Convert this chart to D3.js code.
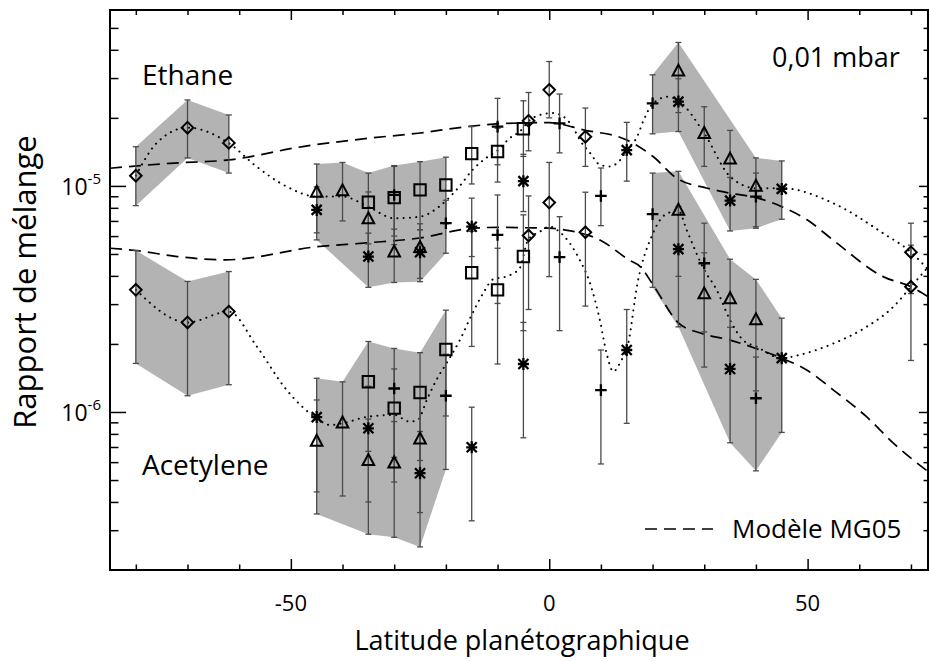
<!DOCTYPE html>
<html><head><meta charset="utf-8">
<script src="https://cdn.jsdelivr.net/npm/d3@7"></script>
<style>body{margin:0;background:#fff} svg{display:block} text{font-family:"Open Sans",sans-serif;fill:#000}</style>
</head><body><svg id="c" width="929" height="661"></svg>
<script>
// ---------------- DATA ----------------
const xDomain = [-85, 73.3];
const yDomain = [2e-7, 6e-5];
const xMajorTicks = [-50, 0, 50];
const xTickLabels = ["-50", "0", "50"];
const xMinorTicks = [-80, -70, -60, -40, -30, -20, -10, 10, 20, 30, 40, 60, 70];
const yMajorTicks = [1e-6, 1e-5];
const yTickLabels = [["10", "-6"], ["10", "-5"]];
const yMinorTicks = [3e-7, 4e-7, 5e-7, 6e-7, 7e-7, 8e-7, 9e-7, 2e-6, 3e-6, 4e-6, 5e-6, 6e-6, 7e-6, 8e-6, 9e-6, 2e-5, 3e-5, 4e-5, 5e-5];

// markers: [latitude, mixing ratio, lower, upper]
const ethaneDiamond = [[-80,1.11e-5,8.18e-6,1.49e-5],[-70,1.81e-5,1.33e-5,2.40e-5],[-62,1.55e-5,1.14e-5,2.06e-5],[-4,1.94e-5,1.43e-5,2.59e-5],[0,2.66e-5,2.00e-5,3.55e-5],[7,1.65e-5,1.22e-5,2.21e-5],[70,5.09e-6,3.34e-6,6.84e-6]];
const ethaneTriangle = [[-45,9.34e-6,6.2e-6,1.25e-5],[-40,9.48e-6,7.0e-6,1.27e-5],[-35,7.13e-6,4.9e-6,9.4e-6],[-30,5.09e-6,3.74e-6,6.44e-6],[-25,5.32e-6,3.9e-6,6.8e-6],[25,3.21e-5,2.11e-5,4.31e-5],[30,1.70e-5,1.22e-5,2.24e-5],[35,1.31e-5,8.6e-6,1.76e-5],[40,9.93e-6,6.6e-6,1.33e-5]];
const ethaneSquare = [[-35,8.47e-6,5.54e-6,1.14e-5],[-30,8.88e-6,5.5e-6,1.23e-5],[-25,9.6e-6,6.4e-6,1.28e-5],[-20,1.01e-5,6.8e-6,1.34e-5],[-15,1.39e-5,1.02e-5,1.83e-5],[-10,1.42e-5,1.04e-5,1.80e-5],[-5,1.79e-5,1.35e-5,2.38e-5]];
const ethaneStar = [[-45,7.83e-6,5.77e-6,9.9e-6],[-35,4.87e-6,3.56e-6,6.18e-6],[-25,5.09e-6,3.77e-6,6.4e-6],[-15,6.6e-6,4.87e-6,8.83e-6],[-5,1.05e-5,7.7e-6,1.38e-5],[15,1.44e-5,1.05e-5,1.91e-5],[25,2.36e-5,1.74e-5,2.98e-5],[35,8.61e-6,6.32e-6,1.09e-5],[45,9.7e-6,7.12e-6,1.29e-5]];
const ethanePlus = [[-30,9.12e-6,6.0e-6,1.22e-5],[-20,6.84e-6,5.04e-6,8.64e-6],[-10,1.83e-5,1.24e-5,2.44e-5],[2,1.89e-5,1.40e-5,2.55e-5],[10,9.03e-6,6.67e-6,1.2e-5],[20,2.32e-5,1.70e-5,3.10e-5],[40,8.97e-6,6.5e-6,1.14e-5]];

const acetyleneDiamond = [[-80,3.47e-6,1.64e-6,5.18e-6],[-70,2.49e-6,1.18e-6,3.78e-6],[-62,2.78e-6,1.32e-6,4.18e-6],[-4,6.03e-6,2.84e-6,9.03e-6],[0,8.44e-6,3.97e-6,1.27e-5],[7,6.24e-6,2.94e-6,9.38e-6],[70,3.58e-6,1.69e-6,5.47e-6]];
const acetyleneTriangle = [[-45,7.40e-7,3.54e-7,1.13e-6],[-40,8.91e-7,4.25e-7,1.36e-6],[-35,6.08e-7,2.88e-7,9.3e-7],[-30,5.93e-7,2.79e-7,9.07e-7],[-25,7.57e-7,3.59e-7,1.15e-6],[25,7.78e-6,3.98e-6,1.16e-5],[30,3.32e-6,1.58e-6,5.06e-6],[35,3.16e-6,1.58e-6,4.74e-6],[40,2.55e-6,1.24e-6,3.86e-6]];
const acetyleneSquare = [[-35,1.36e-6,6.7e-7,2.05e-6],[-30,1.04e-6,4.9e-7,1.55e-6],[-25,1.22e-6,6.1e-7,1.83e-6],[-20,1.89e-6,9.6e-7,2.82e-6],[-15,4.13e-6,1.95e-6,6.3e-6],[-10,3.47e-6,1.63e-6,5.3e-6],[-5,4.87e-6,2.29e-6,7.45e-6]];
const acetyleneStar = [[-45,9.49e-7,4.43e-7,1.41e-6],[-35,8.47e-7,4.0e-7,1.3e-6],[-25,5.36e-7,2.53e-7,8.2e-7],[-15,6.98e-7,3.3e-7,1.05e-6],[-5,1.63e-6,7.69e-7,2.49e-6],[15,1.88e-6,8.91e-7,2.84e-6],[25,5.25e-6,2.38e-6,8.1e-6],[35,1.55e-6,7.31e-7,2.37e-6],[45,1.73e-6,8.12e-7,2.60e-6]];
const acetylenePlus = [[-30,1.27e-6,6.3e-7,1.91e-6],[-20,1.18e-6,5.57e-7,1.8e-6],[-10,6.07e-6,3.02e-6,9.12e-6],[2,4.84e-6,2.29e-6,7.31e-6],[10,1.25e-6,5.89e-7,1.88e-6],[20,7.5e-6,3.56e-6,1.14e-5],[30,4.55e-6,2.26e-6,6.84e-6],[40,1.15e-6,5.49e-7,1.75e-6]];

// shaded envelopes: upper edge and lower edge [lat, value]
const ethaneBandLeftTop = [[-80,1.49e-5],[-70,2.40e-5],[-62,2.06e-5]];
const ethaneBandLeftBottom = [[-80,8.18e-6],[-70,1.33e-5],[-62,1.14e-5]];
const ethaneBandMidTop = [[-45,1.25e-5],[-40,1.27e-5],[-35,1.14e-5],[-30,1.23e-5],[-25,1.28e-5],[-20,1.34e-5]];
const ethaneBandMidBottom = [[-45,5.77e-6],[-35,3.56e-6],[-30,3.74e-6],[-25,3.77e-6],[-20,5.04e-6]];
const ethaneBandRightTop = [[20,3.10e-5],[25,4.31e-5],[40,1.33e-5],[45,1.29e-5]];
const ethaneBandRightBottom = [[20,1.70e-5],[25,1.74e-5],[35,6.32e-6],[40,6.50e-6],[45,7.12e-6]];
const acetyleneBandLeftTop = [[-80,5.18e-6],[-70,3.78e-6],[-62,4.18e-6]];
const acetyleneBandLeftBottom = [[-80,1.64e-6],[-70,1.18e-6],[-62,1.32e-6]];
const acetyleneBandMidTop = [[-45,1.41e-6],[-40,1.36e-6],[-35,2.05e-6],[-30,1.91e-6],[-25,1.83e-6],[-20,2.82e-6]];
const acetyleneBandMidBottom = [[-45,3.54e-7],[-35,2.88e-7],[-30,2.79e-7],[-25,2.53e-7],[-20,5.57e-7]];
const acetyleneBandRightTop = [[20,1.14e-5],[25,1.16e-5],[35,4.74e-6],[40,3.86e-6],[45,2.60e-6]];
const acetyleneBandRightBottom = [[20,3.56e-6],[25,2.38e-6],[35,7.31e-7],[40,5.49e-7],[45,8.12e-7]];

// dotted fits
const ethaneFit = [[-80,1.11e-5],[-76,1.545e-5],[-70,1.81e-5],[-62,1.545e-5],[-56.6,1.216e-5],[-50.8,9.93e-6],[-45,8.97e-6],[-40,8.97e-6],[-35,8.09e-6],[-30,7.19e-6],[-25,7.31e-6],[-21.3,8.10e-6],[-17.4,9.93e-6],[-14.8,1.18e-5],[-12.2,1.33e-5],[-9.9,1.44e-5],[-7.6,1.63e-5],[-5.7,1.74e-5],[-3.7,1.96e-5],[-1.8,2.06e-5],[0.8,2.10e-5],[2.7,2.03e-5],[4.7,1.80e-5],[5.9,1.60e-5],[7.9,1.40e-5],[9.8,1.24e-5],[11.7,1.22e-5],[13.7,1.30e-5],[15,1.44e-5],[17,1.65e-5],[18.3,1.96e-5],[20.1,2.32e-5],[23,2.48e-5],[25,2.38e-5],[30,1.71e-5],[35,1.10e-5],[40,9.77e-6],[45,9.77e-6],[55,8.38e-6],[64.6,6.18e-6],[70,5.09e-6],[73.3,4.27e-6]];
const acetyleneFit = [[-80,3.47e-6],[-70,2.49e-6],[-62,2.78e-6],[-56.6,1.95e-6],[-50.8,1.25e-6],[-45,9.38e-7],[-42.4,8.75e-7],[-40,8.91e-7],[-35.3,9.51e-7],[-30,9.70e-7],[-27,9.06e-7],[-25.4,9.23e-7],[-23.7,1.13e-6],[-21.8,1.39e-6],[-19.9,1.64e-6],[-17.3,2.08e-6],[-15,2.69e-6],[-12.8,3.35e-6],[-10.8,3.87e-6],[-8.2,3.98e-6],[-5.7,4.33e-6],[-4.1,5.77e-6],[-1.8,6.28e-6],[0.1,6.61e-6],[1.7,6.34e-6],[4,5.57e-6],[5.9,4.71e-6],[7.9,3.71e-6],[9.8,2.55e-6],[11.1,1.82e-6],[12.4,1.51e-6],[14,1.70e-6],[15,1.88e-6],[17.2,3.84e-6],[19.8,5.97e-6],[22.4,7.45e-6],[25,7.78e-6],[26.6,6.38e-6],[30,4.25e-6],[32.4,3.47e-6],[35,2.55e-6],[37.5,2.08e-6],[40,1.95e-6],[45,1.73e-6],[48.5,1.79e-6],[55,2.01e-6],[61.4,2.38e-6],[66.6,2.92e-6],[70,3.58e-6],[73.3,4.37e-6]];

// MG05 model (dashed)
const ethaneModel = [[-85,1.197e-5],[-73.4,1.259e-5],[-62,1.303e-5],[-47.7,1.493e-5],[-34.8,1.626e-5],[-25.4,1.710e-5],[-16,1.828e-5],[-8.2,1.892e-5],[0,1.905e-5],[6.6,1.770e-5],[14.9,1.600e-5],[20.1,1.349e-5],[24.7,1.081e-5],[30.6,9.77e-6],[35,9.29e-6],[40.4,8.83e-6],[45,8.09e-6],[49.9,7.08e-6],[54.9,5.77e-6],[64.6,3.97e-6],[70,3.58e-6],[73.3,3.24e-6]];
const acetyleneModel = [[-85,5.30e-6],[-80,5.18e-6],[-72,4.87e-6],[-62.6,4.71e-6],[-45,5.38e-6],[-35.3,5.60e-6],[-25.4,5.87e-6],[-14.8,6.50e-6],[-9.5,6.56e-6],[-3.1,6.52e-6],[0,6.50e-6],[3.2,6.38e-6],[9.8,5.77e-6],[15.6,4.68e-6],[17.6,4.40e-6],[20.1,3.65e-6],[25,2.48e-6],[29.4,2.23e-6],[35,2.08e-6],[40,1.91e-6],[45,1.73e-6],[49.9,1.53e-6],[55,1.25e-6],[61.4,9.53e-7],[66.6,7.28e-7],[73.3,5.45e-7]];

const labels = {x: "Latitude planétographique", y: "Rapport de mélange", ethane: "Ethane", acetylene: "Acetylene", level: "0,01 mbar", legend: "Modèle MG05"};

// ---------------- DRAW ----------------
const M = {left: 110, right: 928, top: 10, bottom: 570};
const svg = d3.select("#c");
const x = d3.scaleLinear().domain(xDomain).range([M.left, M.right]);
const y = d3.scaleLog().domain(yDomain).range([M.bottom, M.top]);

svg.append("defs").append("clipPath").attr("id", "pc")
  .append("rect").attr("x", M.left).attr("y", M.top).attr("width", M.right - M.left).attr("height", M.bottom - M.top);
const plot = svg.append("g").attr("clip-path", "url(#pc)");

// bands
const bands = [
  [ethaneBandLeftTop, ethaneBandLeftBottom], [ethaneBandMidTop, ethaneBandMidBottom], [ethaneBandRightTop, ethaneBandRightBottom],
  [acetyleneBandLeftTop, acetyleneBandLeftBottom], [acetyleneBandMidTop, acetyleneBandMidBottom], [acetyleneBandRightTop, acetyleneBandRightBottom]
];
const poly = d3.line().x(d => x(d[0])).y(d => y(d[1]));
bands.forEach(([top, bot]) => {
  const pts = top.concat(bot.slice().sort((a, b) => b[0] - a[0]));
  plot.append("path").attr("d", poly(pts) + "Z").attr("fill", "#b3b3b3").attr("stroke", "none");
});

// model dashed
const smooth = d3.line().x(d => x(d[0])).y(d => y(d[1])).curve(d3.curveMonotoneX);
[ethaneModel, acetyleneModel].forEach(m => {
  plot.append("path").attr("d", smooth(m)).attr("fill", "none").attr("stroke", "#000")
    .attr("stroke-width", 1.7).attr("stroke-dasharray", "12,7");
});

// dotted fits
[ethaneFit, acetyleneFit].forEach(f => {
  plot.append("path").attr("d", smooth(f)).attr("fill", "none").attr("stroke", "#000")
    .attr("stroke-width", 2).attr("stroke-linecap", "round").attr("stroke-dasharray", "0.1,6.2");
});

// error bars
const allSets = [
  [ethaneDiamond, "diamond"], [ethaneTriangle, "triangle"], [ethaneSquare, "square"], [ethaneStar, "star"], [ethanePlus, "plus"],
  [acetyleneDiamond, "diamond"], [acetyleneTriangle, "triangle"], [acetyleneSquare, "square"], [acetyleneStar, "star"], [acetylenePlus, "plus"]
];
const eb = plot.append("g").attr("stroke", "#4a4a4a").attr("stroke-width", 1.3).attr("fill", "none");
allSets.forEach(([data]) => {
  data.forEach(d => {
    const cx = x(d[0]), y0 = y(d[2]), y1 = y(d[3]);
    eb.append("line").attr("x1", cx).attr("x2", cx).attr("y1", y0).attr("y2", y1);
    eb.append("line").attr("x1", cx - 3).attr("x2", cx + 3).attr("y1", y0).attr("y2", y0);
    eb.append("line").attr("x1", cx - 3).attr("x2", cx + 3).attr("y1", y1).attr("y2", y1);
  });
});

// symbols
const shapes = {
  diamond: "M0,-5.8L5.8,0L0,5.8L-5.8,0Z",
  square: "M-5.7,-5.7H5.7V5.7H-5.7Z",
  triangle: "M0,-6.8L5.8,4.2L-5.8,4.2Z",
  plus: "M-5.8,0H5.8M0,-5.8V5.8",
  star: "M0,-6V6M-5,-5L5,5M-5,5L5,-5M-5.5,0H5.5"
};
const mk = plot.append("g").attr("stroke", "#000").attr("fill", "none");
allSets.forEach(([data, s]) => {
  mk.selectAll(null).data(data).enter().append("path")
    .attr("d", shapes[s]).attr("transform", d => `translate(${x(d[0])},${y(d[1])})`)
    .attr("stroke-width", s === "plus" || s === "star" ? 2.3 : 2);
});

// axes (inward ticks)
const ax = svg.append("g");
function styleAxis(g) { g.select(".domain").remove(); g.selectAll("line").attr("stroke", "#000").attr("stroke-width", 1.5); g.selectAll("text").remove(); }
ax.append("g").attr("transform", `translate(0,${M.bottom})`).call(d3.axisBottom(x).tickValues(xMajorTicks).tickSize(-11)).call(styleAxis);
ax.append("g").attr("transform", `translate(0,${M.bottom})`).call(d3.axisBottom(x).tickValues(xMinorTicks).tickSize(-5.5)).call(styleAxis);
ax.append("g").attr("transform", `translate(0,${M.top})`).call(d3.axisTop(x).tickValues(xMajorTicks).tickSize(-10)).call(styleAxis);
ax.append("g").attr("transform", `translate(0,${M.top})`).call(d3.axisTop(x).tickValues(xMinorTicks).tickSize(-5)).call(styleAxis);
ax.append("g").attr("transform", `translate(${M.left},0)`).call(d3.axisLeft(y).tickValues(yMajorTicks).tickSize(-16)).call(styleAxis);
ax.append("g").attr("transform", `translate(${M.left},0)`).call(d3.axisLeft(y).tickValues(yMinorTicks).tickSize(-8.5)).call(styleAxis);
ax.append("g").attr("transform", `translate(${M.right},0)`).call(d3.axisRight(y).tickValues(yMajorTicks).tickSize(-9)).call(styleAxis);
ax.append("g").attr("transform", `translate(${M.right},0)`).call(d3.axisRight(y).tickValues(yMinorTicks).tickSize(-4.5)).call(styleAxis);
svg.append("rect").attr("x", M.left).attr("y", M.top).attr("width", M.right - M.left).attr("height", M.bottom - M.top)
  .attr("fill", "none").attr("stroke", "#000").attr("stroke-width", 2);

// tick labels
xMajorTicks.forEach((t, i) => {
  svg.append("text").attr("x", x(t)).attr("y", 611).attr("text-anchor", "middle").attr("font-size", 22).text(xTickLabels[i]);
});
yMajorTicks.forEach((t, i) => {
  const tx = svg.append("text").attr("x", 101).attr("y", y(t) + 9).attr("text-anchor", "end").attr("font-size", 23);
  tx.append("tspan").text(yTickLabels[i][0]);
  tx.append("tspan").attr("font-size", 15).attr("dy", -11).text(yTickLabels[i][1]);
});

// titles
svg.append("text").attr("x", 522).attr("y", 650).attr("text-anchor", "middle").attr("font-size", 27).text(labels.x);
svg.append("text").attr("transform", `translate(36,282) rotate(-90)`).attr("text-anchor", "middle").attr("font-size", 31).text(labels.y);

// annotations
svg.append("text").attr("x", 142).attr("y", 85).attr("font-size", 28).text(labels.ethane);
svg.append("text").attr("x", 142).attr("y", 475).attr("font-size", 28).text(labels.acetylene);
svg.append("text").attr("x", 772).attr("y", 67).attr("font-size", 27).text(labels.level);
svg.append("line").attr("x1", 645).attr("x2", 713).attr("y1", 529).attr("y2", 529).attr("stroke", "#000").attr("stroke-width", 1.7).attr("stroke-dasharray", "12,7");
svg.append("text").attr("x", 732).attr("y", 538).attr("font-size", 26).text(labels.legend);
</script></body></html>
